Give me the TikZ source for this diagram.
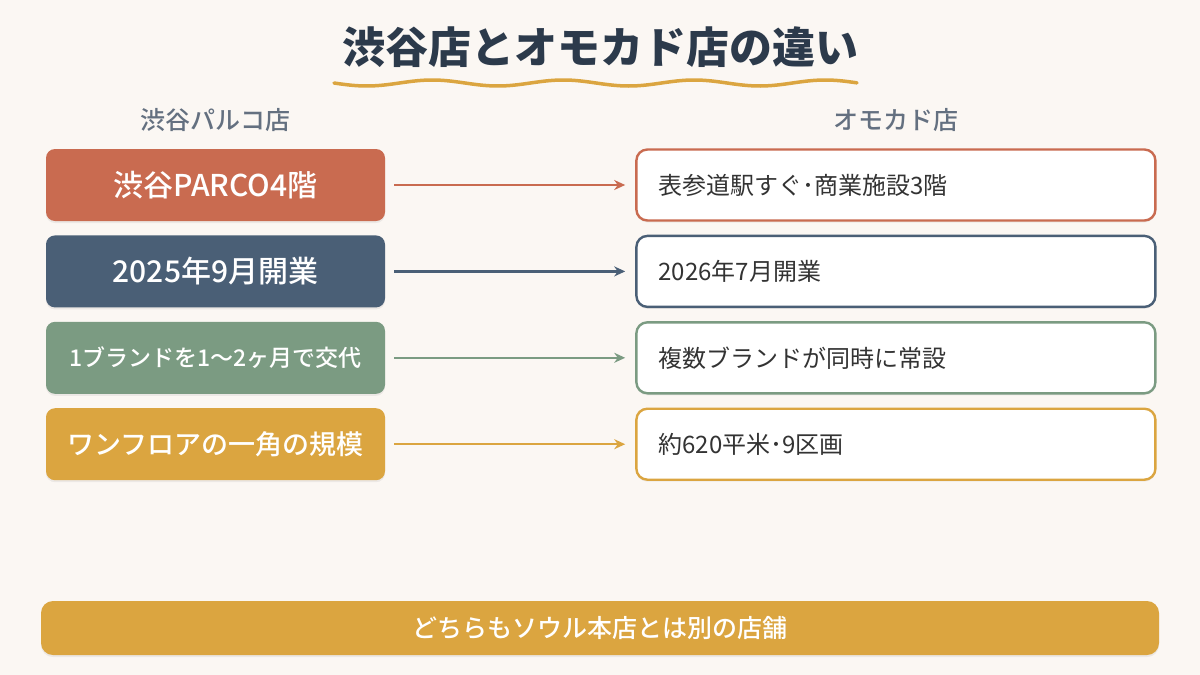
\documentclass[tikz,border=0pt]{standalone}
\usepackage{fontspec}
\setmainfont{Noto Sans CJK JP}
\newfontfamily\jpmed{Noto Sans CJK JP Medium}
\usetikzlibrary{arrows.meta, positioning, shadows}
\definecolor{bgc}{HTML}{FBF7F3}
\definecolor{inkc}{HTML}{2C3A4B}
\definecolor{headc}{HTML}{647080}
\definecolor{txtc}{HTML}{333333}
\definecolor{terrac}{HTML}{C96B50}
\definecolor{navyc}{HTML}{4A5F76}
\definecolor{sagec}{HTML}{7B9B82}
\definecolor{goldc}{HTML}{DBA540}
\tikzset{
  lbox/.style={rounded corners=9pt, fill=#1, text=white, font=\fontsize{30}{34}\selectfont\jpmed,
               minimum width=339pt, minimum height=72pt, align=center,
               drop shadow={shadow xshift=0pt, shadow yshift=-2pt, opacity=0.12}},
  rbox/.style={draw=#1, line width=2.4pt, rounded corners=11pt, fill=white, text=txtc,
               font=\fontsize{24}{28}\selectfont, minimum height=71pt,
               text width=475pt, inner xsep=22pt, align=left,
               drop shadow={shadow xshift=0pt, shadow yshift=-2pt, opacity=0.10}},
  sig/.style={-{Stealth[length=11pt, width=10pt]}, line width=2.4pt, draw=#1,
              shorten <=9pt, shorten >=10pt},
  head/.style={text=headc, font=\fontsize{25}{28}\selectfont\jpmed},
}

\begin{document}
\begin{tikzpicture}[x=1pt, y=-1pt, node distance=14pt and 250pt]
  \fill[bgc] (0,0) rectangle (1200,675);
  \useasboundingbox (0,0) rectangle (1200,675);

  % title
  \node[text=inkc, font=\fontsize{43}{48}\selectfont\bfseries] (title) at (600,47) {渋谷店とオモカド店の違い};
  \draw[goldc, line width=3.5pt, line cap=round]
    plot[domain=334:857, samples=120] (\x, {83+3*sin((\x-334)/131*360)});

  % column heads
  \node[head] (hl) at (215.5,120) {渋谷パルコ店};
  \node[head] (hr) at (895.5,120) {オモカド店};

  % left column
  \node[lbox=terrac] (l1) at (215.5,185) {渋谷PARCO4階};
  \node[lbox=navyc,  below=of l1] (l2) {2025年9月開業};
  \node[lbox=sagec,  below=of l2, font=\fontsize{23}{26}\selectfont\jpmed] (l3) {1ブランドを1〜2ヶ月で交代};
  \node[lbox=goldc,  below=of l3, font=\fontsize{27}{32}\selectfont\jpmed] (l4) {ワンフロアの一角の規模};

  % right column
  \node[rbox=terrac, right=of l1] (r1) {表参道駅すぐ･商業施設3階};
  \node[rbox=navyc,  right=of l2] (r2) {2026年7月開業};
  \node[rbox=sagec,  right=of l3] (r3) {複数ブランドが同時に常設};
  \node[rbox=goldc,  right=of l4] (r4) {約620平米･9区画};

  \draw[sig=terrac] (l1) -- (r1);
  \draw[sig=navyc]  (l2) -- (r2);
  \draw[sig=sagec]  (l3) -- (r3);
  \draw[sig=goldc]  (l4) -- (r4);

  % footer
  \node[rounded corners=12pt, fill=goldc, text=white, minimum width=1118pt, minimum height=54pt,
        font=\fontsize{25}{28}\selectfont\jpmed,
        drop shadow={shadow xshift=0pt, shadow yshift=-2pt, opacity=0.12}]
    (foot) at (600,628) {どちらもソウル本店とは別の店舗};
\end{tikzpicture}
\end{document}
